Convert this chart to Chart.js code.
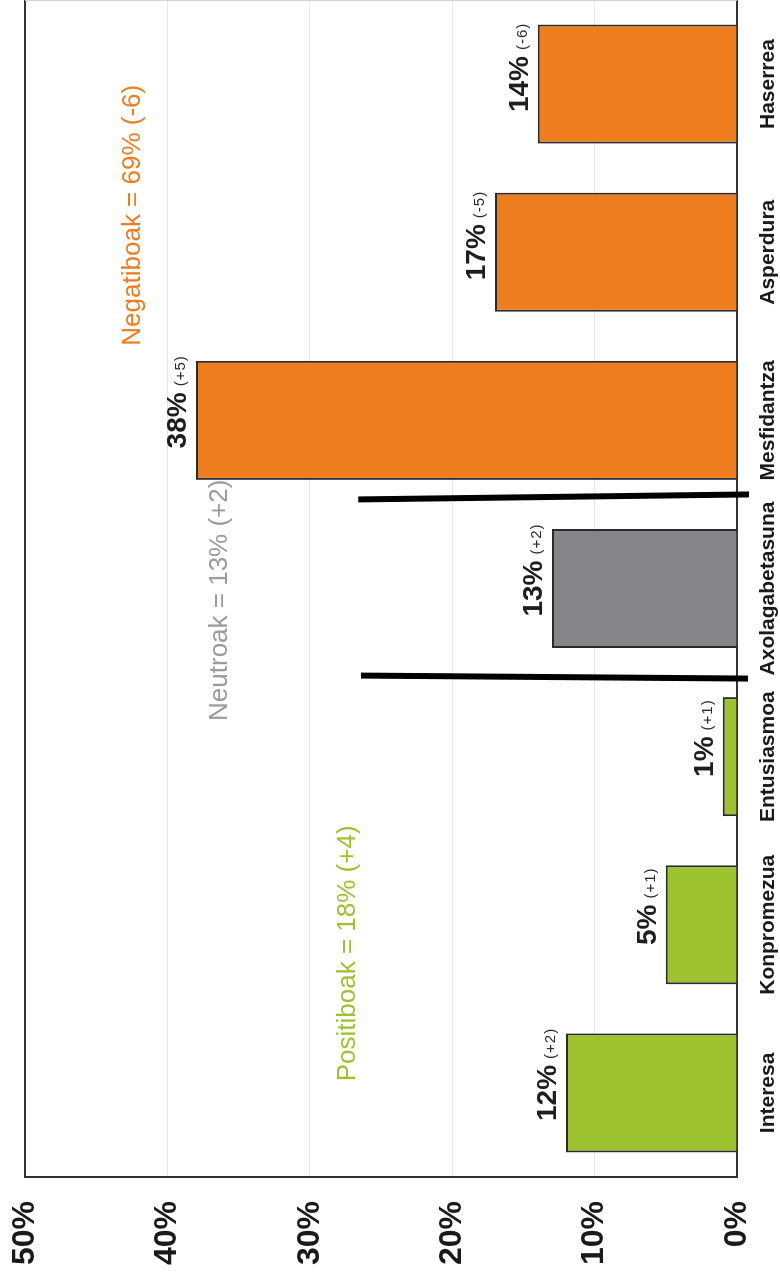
<!DOCTYPE html>
<html><head><meta charset="utf-8">
<script src="https://cdn.jsdelivr.net/npm/chart.js@4.4.0/dist/chart.umd.min.js"></script>
<style>
html,body{margin:0;padding:0;background:#fff;overflow:hidden;width:780px;height:1278px;}
#wrap{position:absolute;left:0;top:0;width:1278px;height:780px;transform-origin:0 0;transform:translate(0,1278px) rotate(-90deg);}
canvas{display:block;}
</style></head><body>
<div id="wrap"><canvas id="c" width="1278" height="780"></canvas></div>
<script>
const categories = ['Interesa','Konpromezua','Entusiasmoa','Axolagabetasuna','Mesfidantza','Asperdura','Haserrea'];
const values = [12, 5, 1, 13, 38, 17, 14];
const deltas = ['(+2)','(+1)','(+1)','(+2)','(+5)','(-5)','(-6)'];
const groupOf = ['pos','pos','pos','neu','neg','neg','neg'];
const valueTicks = [0, 10, 20, 30, 40, 50];
const groupLabels = { pos:'Positiboak = 18% (+4)', neu:'Neutroak = 13% (+2)', neg:'Negatiboak = 69% (-6)' };

const COLORS = { pos:'#9CC230', neu:'#858489', neg:'#EE7D1F' };
const TEXTCOL = { pos:'#9CC230', neu:'#9b9b9b', neg:'#EE7D1F' };
const FONT = '"Liberation Sans", Arial, Helvetica, sans-serif';

const overlay = {
  id: 'overlay',
  afterDatasetsDraw(chart) {
    const { ctx, chartArea: a, scales: { x, y } } = chart;
    const meta = chart.getDatasetMeta(0);
    ctx.save();
    // frame
    ctx.strokeStyle = '#333'; ctx.lineWidth = 2;
    ctx.beginPath(); ctx.moveTo(a.left, a.top); ctx.lineTo(a.right, a.top); ctx.stroke();
    ctx.strokeStyle = '#d4d4d4'; ctx.lineWidth = 1;
    ctx.beginPath(); ctx.moveTo(a.right - 0.5, a.top); ctx.lineTo(a.right - 0.5, a.bottom); ctx.stroke();

    // group separators (hand-drawn look)
    ctx.strokeStyle = '#000'; ctx.lineWidth = 6; ctx.lineCap = 'butt';
    const s1 = x.getPixelForValue(3.5);
    ctx.beginPath(); ctx.moveTo(s1 + 5, y.getPixelForValue(26.6)); ctx.lineTo(s1 + 10, a.bottom + 12); ctx.stroke();
    const s2 = x.getPixelForValue(2.5);
    ctx.beginPath(); ctx.moveTo(s2 - 3, y.getPixelForValue(26.4)); ctx.lineTo(s2 - 6, a.bottom + 11); ctx.stroke();

    // bar value labels
    meta.data.forEach((el, i) => {
      const main = values[i] + '%';
      ctx.font = 'bold 28px ' + FONT;
      const mw = ctx.measureText(main).width;
      const baseY = el.y - 10;
      const sx = el.x - mw / 2;
      ctx.fillStyle = '#1e1e1e';
      ctx.textAlign = 'left'; ctx.textBaseline = 'alphabetic';
      ctx.fillText(main, sx, baseY);
      ctx.font = '15px ' + FONT;
      ctx.letterSpacing = '1px';
      ctx.fillStyle = '#2a2a2a';
      ctx.fillText(deltas[i], sx + mw + 6, baseY - 1);
      ctx.letterSpacing = '0px';
    });

    // group annotations
    ctx.font = '26px ' + FONT;
    ctx.textAlign = 'center'; ctx.textBaseline = 'alphabetic';
    const anchors = { pos: [0.83, 26.8], neu: [2.93, 35.8], neg: [5.22, 41.9] };
    Object.keys(anchors).forEach(k => {
      ctx.fillStyle = TEXTCOL[k];
      ctx.fillText(groupLabels[k], x.getPixelForValue(anchors[k][0]), y.getPixelForValue(anchors[k][1]));
    });
    ctx.restore();
  }
};

new Chart(document.getElementById('c').getContext('2d'), {
  type: 'bar',
  data: {
    labels: categories,
    datasets: [{
      data: values,
      backgroundColor: groupOf.map(g => COLORS[g]),
      borderColor: '#2a2a2a',
      borderWidth: 2,
      barPercentage: 0.708,
      categoryPercentage: 1
    }]
  },
  options: {
    responsive: false,
    animation: false,
    devicePixelRatio: 1,
    layout: { padding: { top: 25, right: 0, left: 0, bottom: 0 } },
    plugins: { legend: { display: false }, tooltip: { enabled: false } },
    scales: {
      x: {
        grid: { display: false, drawTicks: false },
        border: { display: true, color: '#333', width: 2 },
        ticks: { padding: 19, autoSkip: false, maxRotation: 0, color: '#1a1a1a',
                 font: { family: FONT, size: 21, weight: 'bold' } },
        afterFit(s) { s.height = 43; s.paddingLeft = 0; s.paddingRight = 0; }
      },
      y: {
        min: 0, max: 50,
        afterBuildTicks(s) { s.ticks = valueTicks.map(v => ({ value: v })); },
        grid: { color: '#e6e6e6', lineWidth: 1, drawTicks: false },
        border: { display: true, color: '#333', width: 2 },
        ticks: { padding: 24, color: '#1a1a1a', callback: v => v + '%',
                 font: { family: FONT, size: 32, weight: 'bold' } },
        afterFit(s) { s.width = 101; s.paddingTop = 0; s.paddingBottom = 0; }
      }
    }
  },
  plugins: [overlay]
});
</script>
</body></html>
